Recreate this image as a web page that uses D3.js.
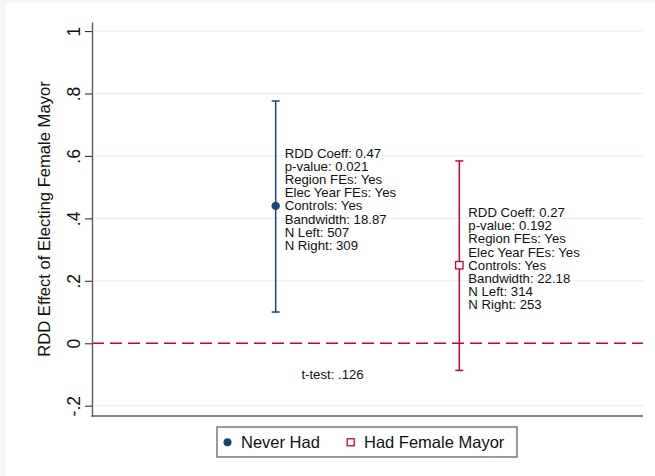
<!DOCTYPE html>
<html lang="en">
<head>
<meta charset="utf-8">
<title>RDD Effect of Electing Female Mayor</title>
<style>
    body { margin: 0; background: #fff; }
    svg { display: block; font-family: "Liberation Sans", Arial, Helvetica, sans-serif; }
    .grid line { stroke: #e4edf0; stroke-width: 1; }
    .note { font-size: 13.2px; fill: #111; }
</style>
</head>
<body>
<script src="https://cdn.jsdelivr.net/npm/d3@7"></script>
<script>
    // data
    let groups = ["Never Had", "Had Female Mayor"];
    let xPos = [1, 2];
    let coef = [0.44, 0.25];
    let ciLow = [0.10, -0.087];
    let ciHigh = [0.776, 0.584];
    let yTicks = [-0.2, 0, 0.2, 0.4, 0.6, 0.8, 1];
    let yTickLabels = ["-.2", "0", ".2", ".4", ".6", ".8", "1"];
    let notes = [
        ["RDD Coeff: 0.47", "p-value: 0.021", "Region FEs: Yes", "Elec Year FEs: Yes",
         "Controls: Yes", "Bandwidth: 18.87", "N Left: 507", "N Right: 309"],
        ["RDD Coeff: 0.27", "p-value: 0.192", "Region FEs: Yes", "Elec Year FEs: Yes",
         "Controls: Yes", "Bandwidth: 22.18", "N Left: 314", "N Right: 253"]
    ];
    let tTestText = "t-test: .126";
    let tTestPos = [1.14, -0.1];

    let navy = "#1a476f", red = "#c10534";
    let width = 655, height = 476;
    let margin = {top: 22, right: 12, bottom: 60, left: 92};

    let svg = d3.select("body").append("svg")
        .attr("width", width)
        .attr("height", height);

    // faint grey strips at the top and left edges of the original crop
    svg.append("rect").attr("x", 0).attr("y", 0).attr("width", width).attr("height", 3).attr("fill", "#f6f6f6");
    svg.append("rect").attr("x", 0).attr("y", 0).attr("width", 6).attr("height", height).attr("fill", "#f6f6f6");

    let x = d3.scaleLinear().domain([0, 3]).range([margin.left, width - margin.right]);
    let y = d3.scaleLinear().domain([-0.233, 1.029]).range([height - margin.bottom, margin.top]);

    // gridlines
    svg.append("g").attr("class", "grid")
        .selectAll("line").data(yTicks.filter(d => d !== 0))
        .enter().append("line")
        .attr("x1", x(0)).attr("x2", x(3))
        .attr("y1", d => y(d)).attr("y2", d => y(d));

    // zero reference line
    svg.append("line")
        .attr("x1", x(0)).attr("x2", x(3))
        .attr("y1", y(0)).attr("y2", y(0))
        .attr("stroke", red).attr("stroke-width", 1.3)
        .attr("stroke-dasharray", "12,6");

    // y axis
    let yAxis = d3.axisLeft(y).tickValues(yTicks)
        .tickFormat((d, i) => yTickLabels[i])
        .tickSize(7).tickSizeOuter(0).tickPadding(6);
    let gy = svg.append("g").attr("transform", "translate(" + margin.left + ",0)").call(yAxis);
    gy.select(".domain").attr("stroke", "#5a5a5a").attr("stroke-width", 1.4);
    gy.selectAll(".tick line").attr("stroke", "#333").attr("stroke-width", 1.1);
    gy.selectAll(".tick text")
        .attr("font-size", "17.5px").attr("fill", "#111")
        .attr("x", 0).attr("dy", 0)
        .attr("text-anchor", "middle")
        .attr("transform", "translate(-12.5,0) rotate(-90)");

    // x axis line only
    svg.append("line")
        .attr("x1", x(0) - 0.7).attr("x2", x(3))
        .attr("y1", y.range()[0]).attr("y2", y.range()[0])
        .attr("stroke", "#5a5a5a").attr("stroke-width", 1.6);

    // y title
    svg.append("text")
        .attr("transform", "translate(50," + ((margin.top + height - margin.bottom) / 2) + ") rotate(-90)")
        .attr("text-anchor", "middle")
        .attr("font-size", "16.6px").attr("fill", "#111")
        .text("RDD Effect of Electing Female Mayor");

    let colors = [navy, red];
    let capW = 4;

    groups.forEach(function(g, i) {
        let cx = x(xPos[i]);
        let c = colors[i];
        svg.append("line")
            .attr("x1", cx).attr("x2", cx)
            .attr("y1", y(ciLow[i])).attr("y2", y(ciHigh[i]))
            .attr("stroke", c).attr("stroke-width", 1.5);
        [ciLow[i], ciHigh[i]].forEach(function(v) {
            svg.append("line")
                .attr("x1", cx - capW).attr("x2", cx + capW)
                .attr("y1", y(v)).attr("y2", y(v))
                .attr("stroke", c).attr("stroke-width", 1.5);
        });
        if (i === 0) {
            svg.append("circle").attr("cx", cx).attr("cy", y(coef[i])).attr("r", 4.2).attr("fill", c);
        } else {
            svg.append("rect").attr("x", cx - 3.7).attr("y", y(coef[i]) - 3.7)
                .attr("width", 7.4).attr("height", 7.4)
                .attr("fill", "white").attr("stroke", c).attr("stroke-width", 1.3);
        }
        // annotation, 5th line level with the marker
        let lh = 13.2;
        let t = svg.append("text").attr("class", "note")
            .attr("x", cx + 9)
            .attr("y", y(coef[i]) - 4 * lh + 4.5);
        t.selectAll("tspan").data(notes[i]).enter().append("tspan")
            .attr("x", cx + 9)
            .attr("dy", (d, j) => j === 0 ? 0 : lh)
            .text(d => d);
    });

    svg.append("text").attr("class", "note")
        .attr("x", x(tTestPos[0])).attr("y", y(tTestPos[1]) + 4.5)
        .text(tTestText);

    // legend
    let lg = svg.append("g");
    lg.append("rect").attr("x", 217).attr("y", 427).attr("width", 300).attr("height", 30)
        .attr("fill", "white").attr("stroke", "#666").attr("stroke-width", 1.3);
    lg.append("circle").attr("cx", 227.5).attr("cy", 442.3).attr("r", 4).attr("fill", navy);
    lg.append("text").attr("x", 241).attr("y", 448).attr("font-size", "16.5px").attr("fill", "#111").text(groups[0]);
    lg.append("rect").attr("x", 347.2).attr("y", 438.8).attr("width", 7).attr("height", 7)
        .attr("fill", "white").attr("stroke", red).attr("stroke-width", 1.3);
    lg.append("text").attr("x", 364).attr("y", 448).attr("font-size", "16.5px").attr("fill", "#111").text(groups[1]);
</script>
</body>
</html>
